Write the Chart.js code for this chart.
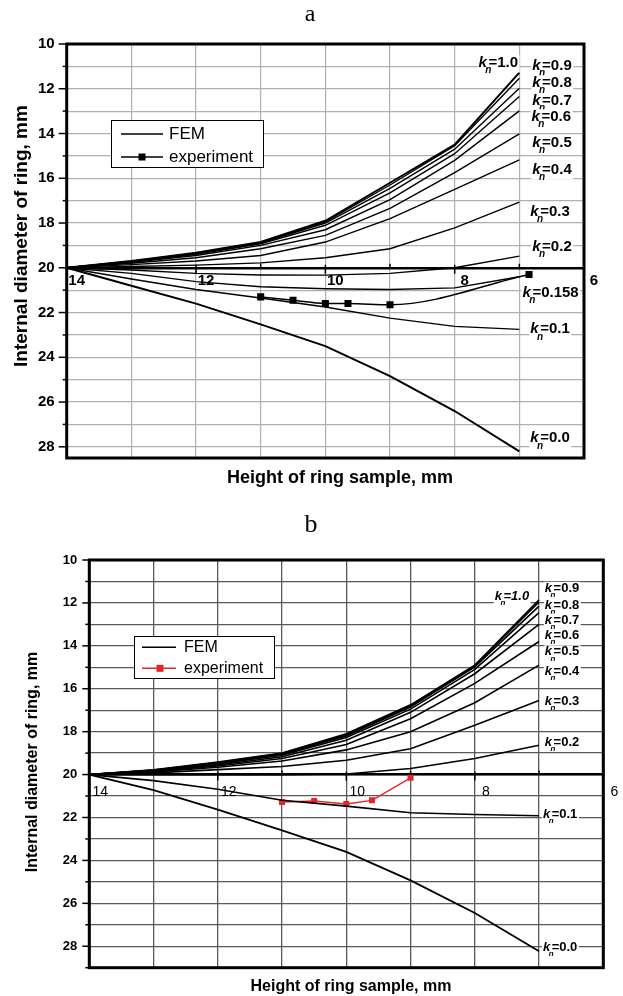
<!DOCTYPE html>
<html><head><meta charset="utf-8">
<script src="https://cdn.jsdelivr.net/npm/chart.js@4/dist/chart.umd.min.js"></script>
<style>
html,body{margin:0;padding:0;background:#fff;width:623px;height:996px;overflow:hidden}
canvas{position:absolute;left:0}
#ca{top:0}
#cb{top:505px}
</style></head><body>
<canvas id="ca" width="623" height="505"></canvas>
<canvas id="cb" width="623" height="491"></canvas>
<script>
// ---------- data ----------
const heights = [14, 13, 12, 11, 10, 9, 8, 7];
const xTickLabels = [14, 12, 10, 8, 6];
const yTickLabels = [10, 12, 14, 16, 18, 20, 22, 24, 26, 28];
const legendNames = ['FEM', 'experiment'];

// chart a
const knA = ['1.0', '0.9', '0.8', '0.7', '0.6', '0.5', '0.4', '0.3', '0.2', '0.158', '0.1', '0.0'];
const a_kn10  = [20, 19.70, 19.33, 18.85, 17.90, 16.20, 14.50, 11.28];
const a_kn09  = [20, 19.71, 19.35, 18.87, 17.95, 16.30, 14.55, 11.53];
const a_kn08  = [20, 19.72, 19.37, 18.90, 18.00, 16.45, 14.70, 11.98];
const a_kn07  = [20, 19.74, 19.40, 18.93, 18.10, 16.65, 14.90, 12.35];
const a_kn06  = [20, 19.76, 19.45, 19.00, 18.30, 16.95, 15.20, 12.99];
const a_kn05  = [20, 19.80, 19.55, 19.15, 18.55, 17.35, 15.75, 14.02];
const a_kn04  = [20, 19.86, 19.70, 19.45, 18.85, 17.80, 16.50, 15.18];
const a_kn03  = [20, 19.94, 19.88, 19.78, 19.55, 19.15, 18.22, 17.07];
const a_kn02  = [20, 20.10, 20.25, 20.32, 20.33, 20.25, 20.00, 19.48];
const a_kn0158= [20, 20.25, 20.62, 20.85, 20.94, 20.97, 20.90, 20.40];
const a_kn01  = [20, 20.50, 20.97, 21.35, 21.75, 22.25, 22.62, 22.75];
const a_kn00  = [20, 20.80, 21.60, 22.53, 23.50, 24.84, 26.40, 28.20];
const aFEM = [a_kn10, a_kn09, a_kn08, a_kn07, a_kn06, a_kn05, a_kn04, a_kn03, a_kn02, a_kn0158, a_kn01, a_kn00];
const a_expX = [11, 10.5, 10, 9.65, 9, 6.85];
const a_expY = [21.30, 21.45, 21.60, 21.60, 21.65, 20.30];

// chart b
const knB = ['1.0', '0.9', '0.8', '0.7', '0.6', '0.5', '0.4', '0.3', '0.2', '0.1', '0.0'];
const b_kn10 = [20, 19.78, 19.42, 19.00, 18.10, 16.75, 14.90, 11.85];
const b_kn09 = [20, 19.79, 19.44, 19.02, 18.15, 16.80, 14.93, 11.95];
const b_kn08 = [20, 19.80, 19.46, 19.05, 18.20, 16.85, 14.98, 12.15];
const b_kn07 = [20, 19.81, 19.50, 19.10, 18.27, 16.95, 15.10, 12.45];
const b_kn06 = [20, 19.83, 19.55, 19.17, 18.40, 17.10, 15.30, 13.00];
const b_kn05 = [20, 19.85, 19.60, 19.25, 18.60, 17.40, 15.75, 13.80];
const b_kn04 = [20, 19.88, 19.66, 19.37, 18.85, 18.00, 16.65, 14.90];
const b_kn03 = [20, 19.92, 19.77, 19.62, 19.33, 18.80, 17.70, 16.55];
const b_kn02 = [20, 20.00, 20.00, 20.00, 19.97, 19.72, 19.25, 18.63];
const b_kn01 = [20, 20.28, 20.68, 21.20, 21.47, 21.78, 21.86, 21.92];
const b_kn00 = [20, 20.73, 21.63, 22.60, 23.60, 24.93, 26.45, 28.23];
const bFEM = [b_kn10, b_kn09, b_kn08, b_kn07, b_kn06, b_kn05, b_kn04, b_kn03, b_kn02, b_kn01, b_kn00];
const b_expX = [11, 10.5, 10, 9.6, 9];
const b_expY = [21.28, 21.23, 21.37, 21.20, 20.15];

const xTitle = 'Height of ring sample, mm';
const yTitle = 'Internal diameter of ring, mm';

// ---------- layout / style ----------
const SANS = '"Liberation Sans", Arial, Helvetica, sans-serif';
const SERIF = '"Liberation Serif", "Times New Roman", serif';

const layoutA = {
  title: 'a', titleX: 310, titleY: 15, titleSize: 24,
  yTitleX: 22, yTitleY: 236, yTitleSize: 19,
  xTitleX: 340, xTitleY: 478, xTitleSize: 18,
  gridColor: '#b0b0b0', gridW: 1.2, borderW: 3, tickW: 1.5, majorTick: 8, minorTick: 4,
  labelSize: 15, labelItalicIdx: -1,
  labels: [[7.63,10.83],[6.80,10.97],[6.80,11.73],[6.80,12.53],[6.81,13.25],[6.80,14.41],
           [6.80,15.61],[6.83,17.49],[6.80,19.05],[6.95,21.10],[6.83,22.75],[6.83,27.62]],
  legend: {x:111, y:120, w:152, h:47, r1:134, r2:157, x1:121, x2:163, mx:142, ms:7, tx:169, size:17,
           expColor:'#000', femW:1.6, expW:1.6}
};
const layoutB = {
  title: 'b', titleX: 311, titleY: 20, titleSize: 26,
  yTitleX: 33, yTitleY: 257, yTitleSize: 16,
  xTitleX: 351, xTitleY: 482, xTitleSize: 16,
  gridColor: '#5a5a5a', gridW: 1.3, borderW: 3, tickW: 1.5, majorTick: 7, minorTick: 4,
  labelSize: 13, labelItalicIdx: 0,
  labels: [[7.69,11.68],[6.91,11.32],[6.91,12.10],[6.91,12.80],[6.91,13.53],[6.91,14.28],
           [6.91,15.21],[6.91,16.57],[6.91,18.51],[6.94,21.85],[6.94,28.04]],
  legend: {x:134, y:131, w:140, h:42, r1:142.3, r2:163.3, x1:142, x2:176, mx:160, ms:7, tx:184, size:16,
           expColor:'#e3262b', femW:1.6, expW:1.4}
};

function drawKn(ctx, px, py, val, f, allItalic) {
  const kf = `italic bold ${f}px ${SANS}`;
  const nf = `italic bold ${Math.round(f * 0.65)}px ${SANS}`;
  const rf = `${allItalic ? 'italic ' : ''}bold ${f}px ${SANS}`;
  ctx.font = kf; const kw = ctx.measureText('k').width;
  const rest = '=' + val;
  ctx.font = rf; const rw = ctx.measureText(rest).width;
  ctx.fillStyle = '#fff';
  ctx.fillRect(px - 1, py - f * 0.5, kw + rw + 4, f * 1.15);
  ctx.fillStyle = '#000';
  ctx.textBaseline = 'middle'; ctx.textAlign = 'left';
  ctx.font = kf; ctx.fillText('k', px, py);
  ctx.font = nf; ctx.fillText('n', px + kw * 0.8, py + f * 0.5);
  ctx.font = rf; ctx.fillText(rest, px + kw + 1.5, py);
}

function decor(L, kn) {
  return {
    id: 'decor',
    afterDraw(chart) {
      const {ctx, chartArea: ca, scales: {x, y}} = chart;
      ctx.save();
      // curve labels
      L.labels.forEach((p, i) => {
        drawKn(ctx, x.getPixelForValue(p[0]), y.getPixelForValue(p[1]), kn[i], L.labelSize, i === L.labelItalicIdx);
      });
      // y-axis tick marks
      ctx.strokeStyle = '#000'; ctx.lineWidth = L.tickW;
      for (let v = Math.ceil(y.min); v <= Math.floor(y.max); v++) {
        const py = y.getPixelForValue(v);
        const len = v % 2 === 0 ? L.majorTick : L.minorTick;
        ctx.beginPath(); ctx.moveTo(ca.left - len, py); ctx.lineTo(ca.left, py); ctx.stroke();
      }
      // x-axis tick marks on the line through 20
      const py0 = y.getPixelForValue(20);
      for (let v = Math.ceil(x.min) + 1; v < x.max; v++) {
        const px = x.getPixelForValue(v);
        ctx.beginPath();
        if (v % 2 === 0) { ctx.moveTo(px, py0 - 3); ctx.lineTo(px, py0 + 6); }
        else { ctx.moveTo(px, py0 - 4); ctx.lineTo(px, py0); }
        ctx.stroke();
      }
      // frame
      ctx.lineWidth = L.borderW;
      ctx.strokeRect(ca.left, ca.top, ca.right - ca.left, ca.bottom - ca.top);
      // legend
      const g = L.legend;
      ctx.fillStyle = '#fff'; ctx.fillRect(g.x, g.y, g.w, g.h);
      ctx.strokeStyle = '#000'; ctx.lineWidth = 1; ctx.strokeRect(g.x + 0.5, g.y + 0.5, g.w, g.h);
      ctx.lineWidth = g.femW; ctx.beginPath(); ctx.moveTo(g.x1, g.r1); ctx.lineTo(g.x2, g.r1); ctx.stroke();
      ctx.strokeStyle = g.expColor; ctx.lineWidth = g.expW;
      ctx.beginPath(); ctx.moveTo(g.x1, g.r2); ctx.lineTo(g.x2, g.r2); ctx.stroke();
      ctx.fillStyle = g.expColor; ctx.fillRect(g.mx - g.ms / 2, g.r2 - g.ms / 2, g.ms, g.ms);
      ctx.fillStyle = '#000'; ctx.font = `${g.size}px ${SANS}`;
      ctx.textBaseline = 'middle'; ctx.textAlign = 'left';
      ctx.fillText(legendNames[0], g.tx, g.r1);
      ctx.fillText(legendNames[1], g.tx, g.r2);
      // titles
      ctx.textAlign = 'center';
      ctx.font = `${L.titleSize}px ${SERIF}`;
      ctx.fillText(L.title, L.titleX, L.titleY);
      ctx.font = `bold ${L.xTitleSize}px ${SANS}`;
      ctx.fillText(xTitle, L.xTitleX, L.xTitleY);
      ctx.translate(L.yTitleX, L.yTitleY); ctx.rotate(-Math.PI / 2);
      ctx.font = `bold ${L.yTitleSize}px ${SANS}`;
      ctx.fillText(yTitle, 0, 0);
      ctx.restore();
    }
  };
}

function femSets(series, kn, widths) {
  return series.map((ys, i) => ({
    label: 'FEM kn=' + kn[i],
    data: heights.map((h, j) => ({x: h, y: ys[j]})),
    showLine: true, borderColor: '#000', borderWidth: widths(i),
    pointRadius: 0, tension: 0, fill: false
  }));
}

function makeChart(id, L, sets, ymax, pad, yw, opt) {
  return new Chart(document.getElementById(id), {
    type: 'scatter',
    data: {datasets: sets},
    options: {
      responsive: false, animation: false, devicePixelRatio: 1,
      layout: {padding: pad},
      plugins: {legend: {display: false}, tooltip: {enabled: false}, title: {display: false}},
      scales: {
        x: {
          type: 'linear', reverse: true, min: 6, max: 14, position: {y: 20},
          ticks: {stepSize: 1, autoSkip: false, maxRotation: 0, minRotation: 0,
                  labelOffset: opt.xLabelOffset, padding: opt.xPad, color: '#000',
                  font: {family: SANS, size: opt.xFont, weight: opt.xWeight},
                  callback: v => xTickLabels.includes(v) ? String(v) : ''},
          grid: {color: L.gridColor, lineWidth: L.gridW, drawTicks: false},
          border: {display: true, color: '#000', width: 2.5}
        },
        y: {
          type: 'linear', reverse: true, min: 10, max: ymax,
          afterFit(s) { s.width = yw; },
          ticks: {stepSize: 1, autoSkip: false, includeBounds: false, padding: opt.yPad, color: '#000',
                  font: {family: SANS, size: opt.yFont, weight: 'bold'},
                  callback: v => yTickLabels.includes(v) ? String(v) : ''},
          grid: {color: L.gridColor, lineWidth: L.gridW, drawTicks: false},
          border: {display: false}
        }
      }
    },
    plugins: [decor(L, opt.kn)]
  });
}

// chart a
const setsA = femSets(aFEM, knA, i => (i === 0 || i === 11) ? 2 : 1.4);
setsA.push({
  label: legendNames[1],
  data: a_expX.map((h, j) => ({x: h, y: a_expY[j]})),
  showLine: true, borderColor: '#000', borderWidth: 1.5,
  pointStyle: 'rect', pointRadius: 5, pointBackgroundColor: '#000', pointBorderWidth: 0,
  cubicInterpolationMode: 'monotone', fill: false
});
makeChart('ca', layoutA, setsA, 28.5, {left: 0, top: 44, right: 39, bottom: 47}, 66.7,
  {kn: knA, xLabelOffset: 10, xPad: 4, xFont: 15, xWeight: 'bold', yPad: 12, yFont: 15});

// chart b
const setsB = femSets(bFEM, knB, i => (i === 10) ? 1.8 : 1.6);
setsB.push({
  label: legendNames[1],
  data: b_expX.map((h, j) => ({x: h, y: b_expY[j]})),
  showLine: true, borderColor: '#e3262b', borderWidth: 1.4,
  pointStyle: 'rect', pointRadius: 4.3, pointBackgroundColor: '#e3262b', pointBorderWidth: 0,
  tension: 0, fill: false
});
makeChart('cb', layoutB, setsB, 29, {left: 0, top: 55, right: 19.7, bottom: 28.3}, 89.3,
  {kn: knB, xLabelOffset: 11, xPad: 9, xFont: 14, xWeight: 'normal', yPad: 12, yFont: 13});
</script>
</body></html>
